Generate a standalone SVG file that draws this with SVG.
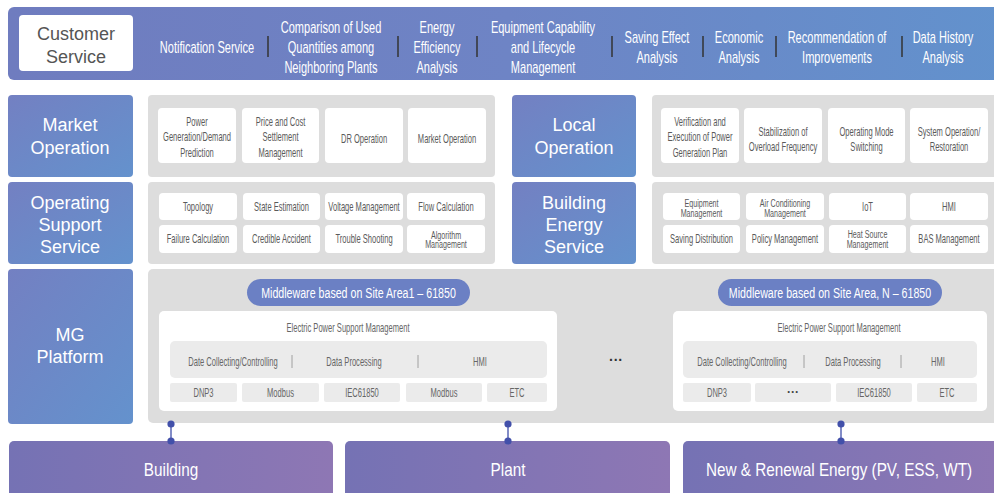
<svg xmlns="http://www.w3.org/2000/svg" width="994" height="493" viewBox="0 0 994 493">
<defs>
<linearGradient id="gTop" x1="0" y1="0" x2="1" y2="0"><stop offset="0" stop-color="#6f7cbf"/><stop offset="0.5" stop-color="#6e84c5"/><stop offset="1" stop-color="#6292cd"/></linearGradient>
<linearGradient id="gLab" x1="0" y1="0" x2="1" y2="1"><stop offset="0" stop-color="#7380c2"/><stop offset="1" stop-color="#6492cd"/></linearGradient>
<linearGradient id="gBot" x1="0" y1="0" x2="1" y2="0"><stop offset="0" stop-color="#7572b4"/><stop offset="1" stop-color="#8e77b4"/></linearGradient>
<marker id="dot" markerUnits="userSpaceOnUse" markerWidth="10" markerHeight="10" refX="5" refY="5" viewBox="0 0 10 10"><circle cx="5" cy="5" r="3.6" fill="#4250aa"/></marker>
<style>
text{font-family:"Liberation Sans",Arial,sans-serif;text-anchor:middle}
.tb{font-size:16px;fill:#ffffff}
.lab{font-size:18px;fill:#ffffff}
.cs{font-size:18px;fill:#555555}
.it{font-size:12px;fill:#5a5a5a}
.its{font-size:11px;fill:#5a5a5a}
.mw{font-size:15px;fill:#ffffff}
.mg{font-size:12px;fill:#666666}
.bt{font-size:18px;fill:#ffffff}
.panel{fill:#dddddd}
.wb{fill:#ffffff}
.gr{fill:#ebebeb}
.sep{stroke:#333333;stroke-width:1.5}
.sep2{stroke:#a0a0a0;stroke-width:1}
.conn{stroke:#5866b4;stroke-width:1.5;marker-start:url(#dot);marker-end:url(#dot)}
</style>
</defs>
<rect width="994" height="493" fill="#ffffff"/>

<g id="customer-service-bar">
<rect x="8" y="7" width="1000" height="73" rx="6" fill="url(#gTop)"/>
<rect x="19" y="15" width="114" height="56" rx="4" fill="#ffffff"/>
<text class="cs" x="76" y="40">Customer</text>
<text class="cs" x="76" y="63">Service</text>
<text class="tb" transform="translate(207 53) scale(.69 1)">Notification Service</text>
<text class="tb" transform="translate(331 33) scale(.69 1)"><tspan x="0">Comparison of Used</tspan><tspan x="0" dy="20">Quantities among</tspan><tspan x="0" dy="20">Neighboring Plants</tspan></text>
<text class="tb" transform="translate(437 33) scale(.69 1)"><tspan x="0">Energy</tspan><tspan x="0" dy="20">Efficiency</tspan><tspan x="0" dy="20">Analysis</tspan></text>
<text class="tb" transform="translate(543 33) scale(.69 1)"><tspan x="0">Equipment Capability</tspan><tspan x="0" dy="20">and Lifecycle</tspan><tspan x="0" dy="20">Management</tspan></text>
<text class="tb" transform="translate(657 43) scale(.69 1)"><tspan x="0">Saving Effect</tspan><tspan x="0" dy="20">Analysis</tspan></text>
<text class="tb" transform="translate(739 43) scale(.69 1)"><tspan x="0">Economic</tspan><tspan x="0" dy="20">Analysis</tspan></text>
<text class="tb" transform="translate(837 43) scale(.69 1)"><tspan x="0">Recommendation of</tspan><tspan x="0" dy="20">Improvements</tspan></text>
<text class="tb" transform="translate(943 43) scale(.69 1)"><tspan x="0">Data History</tspan><tspan x="0" dy="20">Analysis</tspan></text>
<line class="sep" x1="268" y1="36" x2="268" y2="57"/>
<line class="sep" x1="398" y1="36" x2="398" y2="57"/>
<line class="sep" x1="477" y1="36" x2="477" y2="57"/>
<line class="sep" x1="612" y1="36" x2="612" y2="57"/>
<line class="sep" x1="703" y1="36" x2="703" y2="57"/>
<line class="sep" x1="776" y1="36" x2="776" y2="57"/>
<line class="sep" x1="902" y1="36" x2="902" y2="57"/>
</g>

<g id="market-operation">
<rect x="8" y="95" width="125" height="82" rx="4" fill="url(#gLab)"/>
<text class="lab" x="70" y="131">Market</text>
<text class="lab" x="70" y="154">Operation</text>
<rect class="panel" x="148" y="95" width="347" height="82" rx="4"/>
<rect class="wb" x="158" y="108" width="78" height="55" rx="4"/>
<rect class="wb" x="242" y="108" width="77" height="55" rx="4"/>
<rect class="wb" x="325" y="108" width="78" height="55" rx="4"/>
<rect class="wb" x="408" y="108" width="78" height="55" rx="4"/>
<text class="it" transform="translate(197 126) scale(.63 1)"><tspan x="0">Power</tspan><tspan x="0" dy="15.5">Generation/Demand</tspan><tspan x="0" dy="15.5">Prediction</tspan></text>
<text class="it" transform="translate(280.5 126) scale(.63 1)"><tspan x="0">Price and Cost</tspan><tspan x="0" dy="15.5">Settlement</tspan><tspan x="0" dy="15.5">Management</tspan></text>
<text class="it" transform="translate(364 143) scale(.63 1)">DR Operation</text>
<text class="it" transform="translate(447 143) scale(.63 1)">Market Operation</text>
</g>

<g id="operating-support-service">
<rect x="8" y="182" width="125" height="82" rx="4" fill="url(#gLab)"/>
<text class="lab" x="70" y="209">Operating</text>
<text class="lab" x="70" y="231">Support</text>
<text class="lab" x="70" y="253">Service</text>
<rect class="panel" x="148" y="182" width="347" height="82" rx="4"/>
<rect class="wb" x="159" y="193" width="78" height="27" rx="4"/>
<rect class="wb" x="243" y="193" width="77" height="27" rx="4"/>
<rect class="wb" x="325" y="193" width="78" height="27" rx="4"/>
<rect class="wb" x="407" y="193" width="78" height="27" rx="4"/>
<rect class="wb" x="159" y="225" width="78" height="28" rx="4"/>
<rect class="wb" x="243" y="225" width="77" height="28" rx="4"/>
<rect class="wb" x="325" y="225" width="78" height="28" rx="4"/>
<rect class="wb" x="407" y="225" width="78" height="28" rx="4"/>
<text class="it" transform="translate(198 211) scale(.63 1)">Topology</text>
<text class="it" transform="translate(281.5 211) scale(.63 1)">State Estimation</text>
<text class="it" transform="translate(364 211) scale(.63 1)">Voltage Management</text>
<text class="it" transform="translate(446 211) scale(.63 1)">Flow Calculation</text>
<text class="it" transform="translate(198 243) scale(.63 1)">Failure Calculation</text>
<text class="it" transform="translate(281.5 243) scale(.63 1)">Credible Accident</text>
<text class="it" transform="translate(364 243) scale(.63 1)">Trouble Shooting</text>
<text class="its" transform="translate(446 238.5) scale(.65 1)"><tspan x="0">Algorithm</tspan><tspan x="0" dy="10">Management</tspan></text>
</g>

<g id="local-operation">
<rect x="512" y="95" width="124" height="82" rx="4" fill="url(#gLab)"/>
<text class="lab" x="574" y="131">Local</text>
<text class="lab" x="574" y="154">Operation</text>
<rect class="panel" x="652" y="95" width="350" height="82" rx="4"/>
<rect class="wb" x="661" y="108" width="78" height="55" rx="4"/>
<rect class="wb" x="744" y="108" width="78" height="55" rx="4"/>
<rect class="wb" x="828" y="108" width="77" height="55" rx="4"/>
<rect class="wb" x="910" y="108" width="78" height="55" rx="4"/>
<text class="it" transform="translate(700 126) scale(.63 1)"><tspan x="0">Verification and</tspan><tspan x="0" dy="15.5">Execution of Power</tspan><tspan x="0" dy="15.5">Generation Plan</tspan></text>
<text class="it" transform="translate(783 136) scale(.63 1)"><tspan x="0">Stabilization of</tspan><tspan x="0" dy="15.5">Overload Frequency</tspan></text>
<text class="it" transform="translate(866.5 136) scale(.63 1)"><tspan x="0">Operating Mode</tspan><tspan x="0" dy="15.5">Switching</tspan></text>
<text class="it" transform="translate(949 136) scale(.63 1)"><tspan x="0">System Operation/</tspan><tspan x="0" dy="15.5">Restoration</tspan></text>
</g>

<g id="building-energy-service">
<rect x="512" y="182" width="124" height="82" rx="4" fill="url(#gLab)"/>
<text class="lab" x="574" y="209">Building</text>
<text class="lab" x="574" y="231">Energy</text>
<text class="lab" x="574" y="253">Service</text>
<rect class="panel" x="652" y="182" width="350" height="82" rx="4"/>
<rect class="wb" x="663" y="193" width="77" height="27" rx="4"/>
<rect class="wb" x="746" y="193" width="78" height="27" rx="4"/>
<rect class="wb" x="829" y="193" width="77" height="27" rx="4"/>
<rect class="wb" x="910" y="193" width="78" height="27" rx="4"/>
<rect class="wb" x="663" y="225" width="77" height="28" rx="4"/>
<rect class="wb" x="746" y="225" width="78" height="28" rx="4"/>
<rect class="wb" x="829" y="225" width="77" height="28" rx="4"/>
<rect class="wb" x="910" y="225" width="78" height="28" rx="4"/>
<text class="its" transform="translate(701.5 207) scale(.65 1)"><tspan x="0">Equipment</tspan><tspan x="0" dy="10.5">Management</tspan></text>
<text class="its" transform="translate(785 207) scale(.65 1)"><tspan x="0">Air Conditioning</tspan><tspan x="0" dy="10.5">Management</tspan></text>
<text class="it" transform="translate(867.5 211) scale(.63 1)">IoT</text>
<text class="it" transform="translate(949 211) scale(.63 1)">HMI</text>
<text class="it" transform="translate(701.5 243) scale(.63 1)">Saving Distribution</text>
<text class="it" transform="translate(785 243) scale(.63 1)">Policy Management</text>
<text class="its" transform="translate(867.5 238) scale(.65 1)"><tspan x="0">Heat Source</tspan><tspan x="0" dy="10.5">Management</tspan></text>
<text class="it" transform="translate(949 243) scale(.63 1)">BAS Management</text>
</g>

<g id="mg-platform">
<rect x="8" y="269" width="125" height="155" rx="4" fill="url(#gLab)"/>
<text class="lab" x="70" y="341">MG</text>
<text class="lab" x="70" y="363">Platform</text>
<rect class="panel" x="148" y="269" width="854" height="154" rx="5"/>
<text x="616" y="365" style="font-size:14px;fill:#333333;font-weight:bold">···</text>
</g>

<g id="site-area-1">
<rect x="247" y="279" width="223" height="27" rx="13.5" fill="#6b80c4"/>
<text class="mw" transform="translate(358.5 298) scale(.71 1)">Middleware based on Site Area1 – 61850</text>
<rect class="wb" x="159" y="311" width="398" height="100" rx="5"/>
<text class="mg" transform="translate(348 332) scale(.63 1)">Electric Power Support Management</text>
<rect class="gr" x="170" y="341" width="377" height="37" rx="5"/>
<text class="mg" transform="translate(233 366) scale(.63 1)">Date Collecting/Controlling</text>
<line class="sep2" x1="292" y1="355" x2="292" y2="368"/>
<text class="mg" transform="translate(354 366) scale(.63 1)">Data Processing</text>
<line class="sep2" x1="418" y1="355" x2="418" y2="368"/>
<text class="mg" transform="translate(480 366) scale(.63 1)">HMI</text>
<rect class="gr" x="170" y="383" width="67" height="19" rx="2"/>
<rect class="gr" x="242" y="383" width="77" height="19" rx="2"/>
<rect class="gr" x="324" y="383" width="76" height="19" rx="2"/>
<rect class="gr" x="406" y="383" width="76" height="19" rx="2"/>
<rect class="gr" x="487" y="383" width="60" height="19" rx="2"/>
<text class="mg" transform="translate(203.5 396.5) scale(.63 1)">DNP3</text>
<text class="mg" transform="translate(280.5 396.5) scale(.63 1)">Modbus</text>
<text class="mg" transform="translate(362 396.5) scale(.63 1)">IEC61850</text>
<text class="mg" transform="translate(444 396.5) scale(.63 1)">Modbus</text>
<text class="mg" transform="translate(517 396.5) scale(.63 1)">ETC</text>
</g>

<g id="site-area-n">
<rect x="718" y="279" width="224" height="27" rx="13.5" fill="#6b80c4"/>
<text class="mw" transform="translate(830 298) scale(.71 1)">Middleware based on Site Area, N – 61850</text>
<rect class="wb" x="673" y="311" width="314" height="100" rx="5"/>
<text class="mg" transform="translate(839 332) scale(.63 1)">Electric Power Support Management</text>
<rect class="gr" x="683" y="341" width="294" height="37" rx="5"/>
<text class="mg" transform="translate(742 366) scale(.63 1)">Date Collecting/Controlling</text>
<line class="sep2" x1="804" y1="355" x2="804" y2="368"/>
<text class="mg" transform="translate(853 366) scale(.63 1)">Data Processing</text>
<line class="sep2" x1="901" y1="355" x2="901" y2="368"/>
<text class="mg" transform="translate(938 366) scale(.63 1)">HMI</text>
<rect class="gr" x="683" y="383" width="68" height="19" rx="2"/>
<rect class="gr" x="755" y="383" width="76" height="19" rx="2"/>
<rect class="gr" x="836" y="383" width="76" height="19" rx="2"/>
<rect class="gr" x="917" y="383" width="60" height="19" rx="2"/>
<text class="mg" transform="translate(717 396.5) scale(.63 1)">DNP3</text>
<text x="793" y="396" style="font-size:12px;fill:#444444;font-weight:bold">···</text>
<text class="mg" transform="translate(874 396.5) scale(.63 1)">IEC61850</text>
<text class="mg" transform="translate(947 396.5) scale(.63 1)">ETC</text>
</g>

<g id="building">
<rect x="9" y="441" width="324" height="60" rx="5" fill="url(#gBot)"/>
<text class="bt" transform="translate(171 476) scale(.85 1)">Building</text>
</g>
<g id="plant">
<rect x="345" y="441" width="325" height="60" rx="5" fill="url(#gBot)"/>
<text class="bt" transform="translate(508 476) scale(.85 1)">Plant</text>
</g>
<g id="new-renewal-energy">
<rect x="683" y="441" width="320" height="60" rx="5" fill="url(#gBot)"/>
<text class="bt" transform="translate(839 476) scale(.85 1)">New &amp; Renewal Energy (PV, ESS, WT)</text>
</g>

<g id="connectors">
<line class="conn" x1="171" y1="424" x2="171" y2="441"/>
<line class="conn" x1="508" y1="424" x2="508" y2="441"/>
<line class="conn" x1="841" y1="424" x2="841" y2="441"/>
</g>
</svg>
